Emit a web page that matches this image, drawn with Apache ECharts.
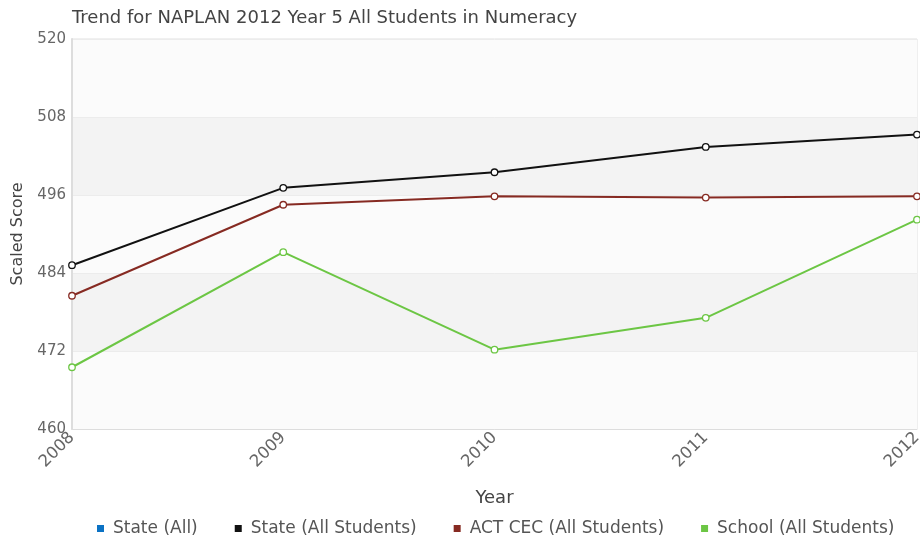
<!DOCTYPE html>
<html>
<head>
<meta charset="utf-8">
<script src="https://cdn.jsdelivr.net/npm/echarts@6/dist/echarts.min.js"></script>
<style>html,body{margin:0;padding:0;background:#fff}#c{width:920px;height:538px}</style>
</head>
<body>
<div id="c"></div>
<script>
var years = ['2008', '2009', '2010', '2011', '2012'];
var stateAll = [];
var stateAllStudents = [485.2, 497.1, 499.5, 503.4, 505.3];
var actCec = [480.5, 494.5, 495.8, 495.6, 495.8];
var school = [469.5, 487.2, 472.2, 477.1, 492.2];
var seriesNames = ['State (All)', 'State (All Students)', 'ACT CEC (All Students)', 'School (All Students)'];
var seriesColors = ['#0b72c4', '#111111', '#862a22', '#6cc644'];
var seriesData = [stateAll, stateAllStudents, actCec, school];

var font = '"DejaVu Sans", Verdana, sans-serif';
var chart = echarts.init(document.getElementById('c'));
chart.setOption({
  animation: false,
  title: {
    text: 'Trend for NAPLAN 2012 Year 5 All Students in Numeracy',
    left: 67, top: 4,
    textStyle: { fontFamily: font, fontSize: 18, fontWeight: 'normal', color: '#444' }
  },
  legend: {
    bottom: 1, left: 97, padding: 0,
    itemWidth: 7, itemHeight: 7, itemGap: 37,
    icon: 'rect',
    textStyle: { fontFamily: font, fontSize: 17, color: '#555', padding: [0, 0, 0, 4] },
    data: seriesNames.map(function (n, i) {
      return { name: n, itemStyle: { color: seriesColors[i], borderWidth: 0 } };
    })
  },
  grid: { left: 72, right: 3, top: 39, bottom: 109, show: true, borderColor: '#e0e0e0', borderWidth: 1, backgroundColor: 'transparent', outerBoundsMode: 'none', containLabel: false },
  xAxis: {
    type: 'category', data: years, boundaryGap: false,
    name: 'Year', nameLocation: 'middle', nameGap: 60,
    nameTextStyle: { fontFamily: font, fontSize: 18, color: '#444' },
    axisLine: { lineStyle: { color: '#ddd' } },
    axisTick: { show: false },
    axisLabel: { rotate: 45, fontFamily: font, fontSize: 16.5, color: '#666', margin: 6, showMaxLabel: true, showMinLabel: true },
    splitLine: { show: false }
  },
  yAxis: {
    type: 'value', min: 460, max: 520, interval: 12,
    name: 'Scaled Score', nameLocation: 'middle', nameGap: 46,
    nameTextStyle: { fontFamily: font, fontSize: 16, color: '#444' },
    axisLine: { show: true, lineStyle: { color: '#ddd', width: 2 } },
    axisTick: { show: false },
    axisLabel: { fontFamily: font, fontSize: 15, color: '#666', margin: 6 },
    splitLine: { show: true, lineStyle: { color: '#ececec' } },
    splitArea: { show: true, areaStyle: { color: ['#fbfbfb', '#f3f3f3'] } }
  },
  series: seriesNames.map(function (n, i) {
    return {
      name: n, type: 'line', data: seriesData[i],
      color: seriesColors[i],
      symbol: 'circle', symbolSize: 6.5, showSymbol: true,
      itemStyle: { color: '#fff', borderColor: seriesColors[i], borderWidth: 1.3 },
      lineStyle: { color: seriesColors[i], width: 2 }
    };
  })
});
</script>
</body>
</html>
